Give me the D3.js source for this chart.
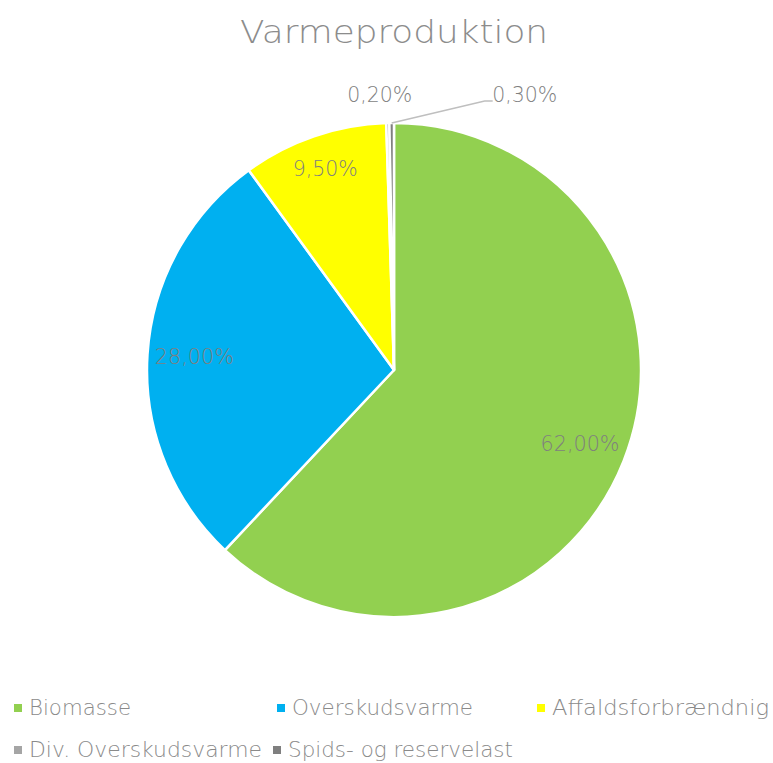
<!DOCTYPE html>
<html><head><meta charset="utf-8">
<script src="https://cdn.jsdelivr.net/npm/d3@7"></script>
<style>body{margin:0;background:#fff}svg{display:block}text{font-family:"DejaVu Sans",sans-serif;font-weight:200}</style>
</head><body>
<svg id="c" width="773" height="763"></svg>
<script>
const title = "Varmeproduktion";
const categories = ["Biomasse","Overskudsvarme","Affaldsforbrændnig","Div. Overskudsvarme","Spids- og reservelast"];
const values = [62.0, 28.0, 9.5, 0.2, 0.3];
const colors = ["#92D050","#00B0F0","#FFFF00","#A5A5A5","#7F7F7F"];
const fmt = v => d3.format(".2f")(v).replace(".", ",") + "%";

const svg = d3.select("#c");
const cx = 394, cy = 370, r = 247;
const g = svg.append("g").attr("transform", `translate(${cx},${cy})`);

const pie = d3.pie().sort(null).value(d => d.v);
const arcs = pie(values.map((v,i)=>({v, i, name: categories[i]})));
const arc = d3.arc().innerRadius(0).outerRadius(r);

g.selectAll("path").data(arcs).join("path")
  .attr("d", arc).attr("fill", d => colors[d.data.i])
  .attr("stroke", "#fff").attr("stroke-width", 2.5).attr("stroke-linejoin","round");

// title
svg.append("text").attr("x", 394).attr("y", 43).attr("text-anchor","middle")
  .attr("font-size", 32).attr("fill", "#8c8c8c").attr("textLength", 308).attr("lengthAdjust","spacingAndGlyphs")
  .text(title);

// data labels
const inArc = d3.arc().innerRadius(r*0.81).outerRadius(r*0.81);
arcs.forEach((d, k) => {
  let x, y;
  if (d.data.v >= 5) {
    [x, y] = inArc.centroid(d);
    if (d.data.i === 2) { const [a,b] = d3.arc().innerRadius(r*0.86).outerRadius(r*0.86).centroid(d); x=a; y=b; }
  } else {
    const [ax, ay] = d3.arc().innerRadius(r).outerRadius(r).centroid(d);
    if (d.data.i === 3) { x = ax - 8; y = ay - 28; }
    else {
      x = ax + 133; y = ay - 28;
      g.append("polyline")
        .attr("points", [[ax, ay], [ax + 93, ay - 22], [ax + 101, ay - 22]].map(p=>p.join(",")).join(" "))
        .attr("fill","none").attr("stroke","#bfbfbf").attr("stroke-width",1.5);
    }
  }
  const txt = fmt(d.data.v);
  g.append("text").attr("x", x).attr("y", y).attr("text-anchor","middle").attr("dominant-baseline","central")
    .attr("font-size", 21).attr("fill", "#7f7f7f")
    .attr("textLength", txt.length === 6 ? 79 : 65).attr("lengthAdjust","spacingAndGlyphs")
    .text(txt);
});

// legend
const legendPos = [[14,708],[277,708],[537,708],[14,750],[273,750]];
const legendW = [102, 181, 217, 233, 225];
const lg = svg.append("g");
categories.forEach((c, i) => {
  const [x, y] = legendPos[i];
  lg.append("rect").attr("x", x).attr("y", y - 4).attr("width", 8).attr("height", 8).attr("fill", colors[i]);
  lg.append("text").attr("x", x + 15).attr("y", y).attr("dominant-baseline","central")
    .attr("font-size", 21).attr("fill", "#8a8a8a")
    .attr("textLength", legendW[i]).attr("lengthAdjust","spacingAndGlyphs").text(c);
});
</script>
</body></html>
